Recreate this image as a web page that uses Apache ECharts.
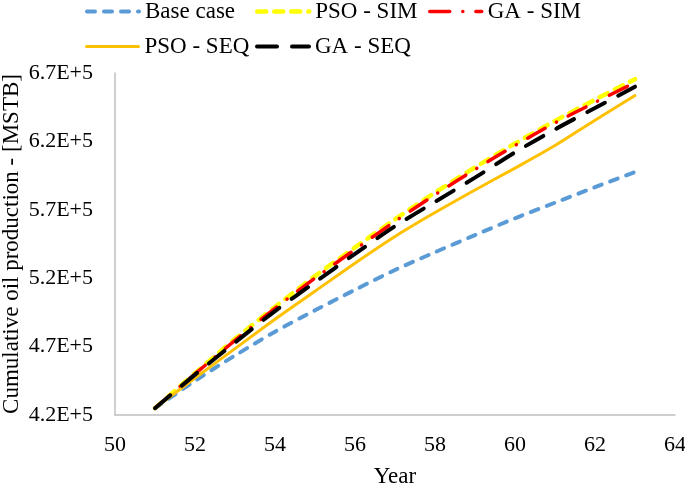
<!DOCTYPE html>
<html>
<head>
<meta charset="utf-8">
<script src="https://cdn.jsdelivr.net/npm/echarts@6/dist/echarts.min.js"></script>
<style>
html,body{margin:0;padding:0;background:#fff;}
#chart{width:685px;height:485px;}
</style>
</head>
<body>
<div id="chart"></div>
<script>
const years = [51, 52, 53, 54, 55, 56, 57, 58, 59, 60, 61, 62, 63];
const baseCase = [425000, 445000, 463500, 480900, 496500, 511500, 526000, 539000, 551500, 563800, 575200, 586500, 597600];
const psoSim   = [425000, 450500, 475500, 499000, 521500, 542500, 563000, 582500, 601000, 618500, 635000, 650500, 665500];
const gaSim    = [425000, 450000, 474500, 498000, 520000, 541000, 561500, 581000, 599500, 617000, 633500, 648500, 663000];
const psoSeq   = [425000, 447000, 468500, 490000, 510500, 531000, 550500, 568000, 584500, 600500, 617000, 635500, 653500];
const gaSeq    = [425000, 449500, 473000, 496000, 517000, 537800, 558000, 575800, 593500, 612000, 628800, 644400, 660000];
const seriesNames = ['Base case', 'PSO - SIM', 'GA - SIM', 'PSO - SEQ', 'GA - SEQ'];
const xTicks = {min: 50, max: 64, interval: 2};
const yTicks = {min: 420000, max: 670000, interval: 50000};

const FONT = 'Liberation Serif';
function pairs(vals){ return years.map((y,i)=>[y, vals[i]]); }

const styles = [
  {color:'#5B9BD5', width:4, type:[8,9], cap:'round'},
  {color:'#FFFF00', width:4.5, type:[9,8], cap:'round'},
  {color:'#FF0000', width:3.5, type:[20,13,0.1,13], cap:'round'},
  {color:'#FFC000', width:3, type:'solid', cap:'round'},
  {color:'#000000', width:4, type:[20,15], cap:'round'}
];
const datasets = [baseCase, psoSim, gaSim, psoSeq, gaSeq];

const chart = echarts.init(document.getElementById('chart'));
const legendPos = [[85,0],[255,0],[428,0],[85,35],[255,35]];
chart.setOption({
  animation:false,
  backgroundColor:'#fff',
  textStyle:{fontFamily:FONT},
  legend: seriesNames.map((n,i)=>({
    data:[n], left:legendPos[i][0], top:legendPos[i][1],
    itemWidth:52, itemHeight:14, itemGap:0, padding:0,
    itemStyle:{opacity:0},
    lineStyle:{width:styles[i].width, type:styles[i].type, cap:styles[i].cap, color:styles[i].color},
    textStyle:{fontFamily:FONT, fontSize:23, color:'#000', padding:[0,0,0,1]}
  })),
  grid:{left:115, right:10, top:73, bottom:70, containLabel:false, outerBoundsMode:'none'},
  xAxis:{
    type:'value', min:xTicks.min, max:xTicks.max, interval:xTicks.interval,
    name:'Year', nameLocation:'middle', nameGap:50, nameMoveOverlap:false,
    nameTextStyle:{fontFamily:FONT, fontSize:23, color:'#000'},
    axisLine:{show:true, lineStyle:{color:'#BFBFBF', width:1.5}},
    axisTick:{show:false},
    splitLine:{show:false},
    axisLabel:{fontFamily:FONT, fontSize:22, color:'#000', margin:19}
  },
  yAxis:{
    type:'value', min:yTicks.min, max:yTicks.max, interval:yTicks.interval,
    name:'Cumulative oil production - [MSTB]', nameLocation:'middle', nameGap:92, nameMoveOverlap:false,
    nameTextStyle:{fontFamily:FONT, fontSize:23, color:'#000'},
    axisLine:{show:true, lineStyle:{color:'#BFBFBF', width:1.5}},
    axisTick:{show:false},
    splitLine:{show:false},
    axisLabel:{fontFamily:FONT, fontSize:22, color:'#000', margin:22,
      formatter:v=>(v/1e5).toFixed(1)+'E+5'}
  },
  series: seriesNames.map((n,i)=>({
    name:n, type:'line', data:pairs(datasets[i]), symbol:'none', smooth:0.3,
    lineStyle:{color:styles[i].color, width:styles[i].width, type:styles[i].type, cap:styles[i].cap},
    itemStyle:{color:styles[i].color}
  }))
});
</script>
</body>
</html>
